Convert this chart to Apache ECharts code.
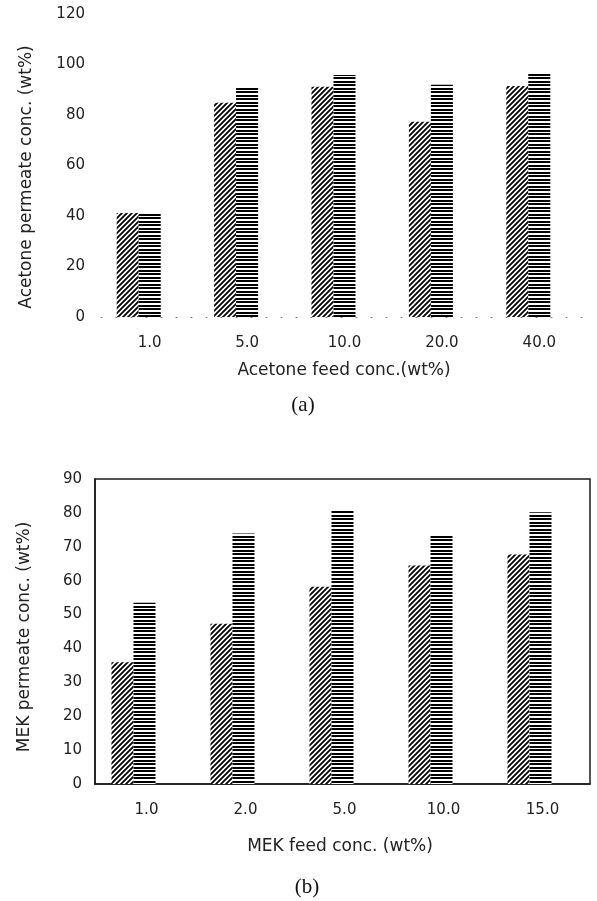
<!DOCTYPE html>
<html>
<head>
<meta charset="utf-8">
<title>Permeate concentration</title>
<script src="https://cdn.jsdelivr.net/npm/echarts@6/dist/echarts.min.js"></script>
<style>
  html, body { margin: 0; padding: 0; background: #fff; }
  #main { width: 597px; height: 901px; }
</style>
</head>
<body>
<div id="main"></div>
<script>
// (a) acetone
var acetoneFeed = ['1.0', '5.0', '10.0', '20.0', '40.0']
var acetoneHatched = [41.2, 84.9, 91.2, 77.3, 91.5]
var acetoneStriped = [41.2, 91.5, 95.8, 92.0, 96.2]
// (b) MEK
var mekFeed = ['1.0', '2.0', '5.0', '10.0', '15.0']
var mekHatched = [35.9, 47.3, 58.2, 64.5, 67.7]
var mekStriped = [53.5, 73.9, 80.6, 73.5, 80.2]

var FONT = 'DejaVu Sans'

// diagonal hatch "////"
function hatchPattern () {
  var c = document.createElement('canvas')
  c.width = 5
  c.height = 5
  var ctx = c.getContext('2d')
  ctx.fillStyle = '#fff'
  ctx.fillRect(0, 0, 5, 5)
  ctx.strokeStyle = '#000'
  ctx.lineWidth = 1.8
  ctx.beginPath()
  ctx.moveTo(-1, 6); ctx.lineTo(6, -1)
  ctx.moveTo(-1, 1); ctx.lineTo(1, -1)
  ctx.moveTo(4, 6); ctx.lineTo(6, 4)
  ctx.stroke()
  return { image: c, repeat: 'repeat' }
}

// dense horizontal lines
function stripePattern () {
  var c = document.createElement('canvas')
  c.width = 4
  c.height = 7
  var ctx = c.getContext('2d')
  ctx.fillStyle = '#fff'
  ctx.fillRect(0, 0, 4, 7)
  ctx.fillStyle = '#000'
  ctx.fillRect(0, 0, 4, 2)
  ctx.fillRect(0, 4, 4, 2)
  return { image: c, repeat: 'repeat' }
}

var hatch = hatchPattern()
var stripe = stripePattern()

var tickLabel = { fontFamily: FONT, fontSize: 15, color: '#222' }

function barSeries (data, fill, idx) {
  return {
    type: 'bar',
    xAxisIndex: idx,
    yAxisIndex: idx,
    barWidth: 22,
    barGap: '0%',
    itemStyle: { color: fill },
    data: data
  }
}

// empty third slot so the pair sits left of the category centre, like the original
function spacer (idx) {
  return { type: 'bar', xAxisIndex: idx, yAxisIndex: idx, barWidth: 22, barGap: '0%', data: [] }
}

var myChart = echarts.init(document.getElementById('main'))
var option = {
  animation: false,
  backgroundColor: '#fff',
  grid: [
    { left: 101, right: 9, top: 14, bottom: 584, containLabel: false },
    { left: 95, right: 7, top: 479, bottom: 117, containLabel: false,
      show: true, borderColor: '#1a1a1a', borderWidth: 1.5 }
  ],
  xAxis: [
    {
      type: 'category',
      gridIndex: 0,
      data: acetoneFeed,
      axisLine: { show: true, lineStyle: { color: '#777', width: 1, type: [1, 14] } },
      axisTick: { show: false },
      axisLabel: Object.assign({ margin: 19 }, tickLabel)
    },
    {
      type: 'category',
      gridIndex: 1,
      data: mekFeed,
      axisLine: { show: true, lineStyle: { color: '#1a1a1a', width: 1.5 } },
      axisTick: { show: false },
      axisLabel: Object.assign({ margin: 19, padding: [0, 0, 0, 4] }, tickLabel)
    }
  ],
  yAxis: [
    {
      type: 'value',
      gridIndex: 0,
      min: 0,
      max: 120,
      interval: 20,
      axisLine: { show: false },
      axisTick: { show: false },
      splitLine: { show: false },
      axisLabel: Object.assign({ margin: 16 }, tickLabel)
    },
    {
      type: 'value',
      gridIndex: 1,
      min: 0,
      max: 90,
      interval: 10,
      axisLine: { show: true, lineStyle: { color: '#1a1a1a', width: 1.5 } },
      axisTick: { show: false },
      splitLine: { show: false },
      axisLabel: Object.assign({ margin: 13 }, tickLabel)
    }
  ],
  graphic: [
    { type: 'text', x: 27, y: 177, rotation: Math.PI / 2,
      style: { text: 'Acetone permeate conc. (wt%)', font: '17px "' + FONT + '"', fill: '#222', align: 'center', verticalAlign: 'middle' } },
    { type: 'text', x: 344, y: 371,
      style: { text: 'Acetone feed conc.(wt%)', font: '17px "' + FONT + '"', fill: '#222', align: 'center', verticalAlign: 'middle' } },
    { type: 'text', x: 303, y: 405,
      style: { text: '(a)', font: '21px "Liberation Serif"', fill: '#111', align: 'center', verticalAlign: 'middle' } },
    { type: 'text', x: 25, y: 637, rotation: Math.PI / 2,
      style: { text: 'MEK permeate conc. (wt%)', font: '17px "' + FONT + '"', fill: '#222', align: 'center', verticalAlign: 'middle' } },
    { type: 'text', x: 340, y: 847,
      style: { text: 'MEK feed conc. (wt%)', font: '17px "' + FONT + '"', fill: '#222', align: 'center', verticalAlign: 'middle' } },
    { type: 'text', x: 307, y: 887,
      style: { text: '(b)', font: '21px "Liberation Serif"', fill: '#111', align: 'center', verticalAlign: 'middle' } }
  ],
  series: [
    barSeries(acetoneHatched, hatch, 0),
    barSeries(acetoneStriped, stripe, 0),
    spacer(0),
    barSeries(mekHatched, hatch, 1),
    barSeries(mekStriped, stripe, 1),
    spacer(1)
  ]
}
myChart.setOption(option)
</script>
</body>
</html>
